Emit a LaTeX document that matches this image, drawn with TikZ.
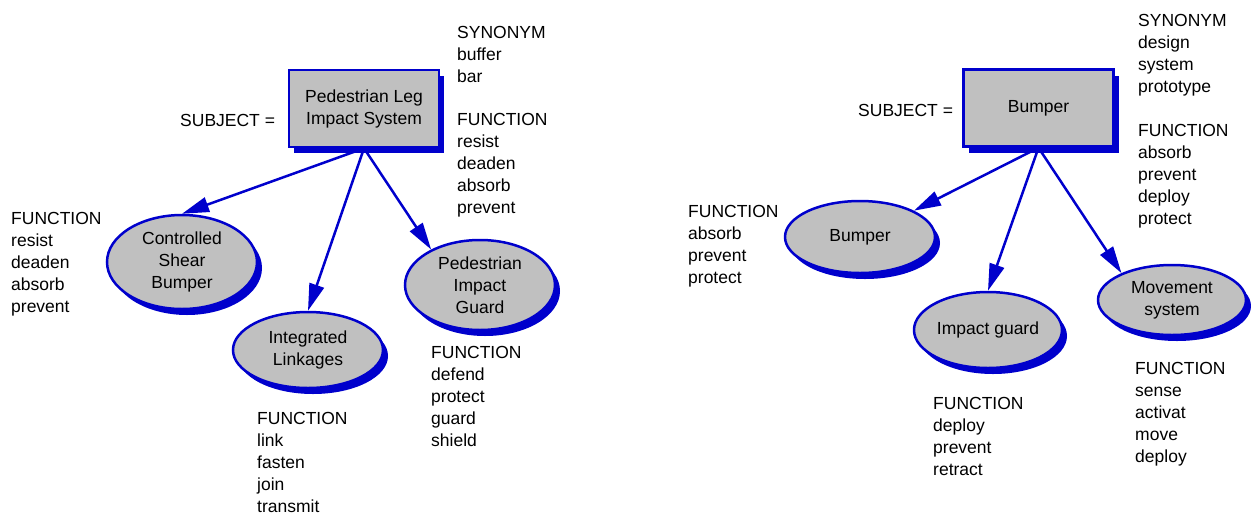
\documentclass[tikz,border=0pt]{standalone}
\usepackage{fontspec}
\setmainfont{Liberation Sans}
\usetikzlibrary{shapes.geometric,shadows,arrows.meta}
\definecolor{lblue}{RGB}{0,0,204}
\definecolor{lgray}{RGB}{192,192,192}
\begin{document}
\begin{tikzpicture}[x=1pt,y=-1pt,
  txt/.style={font=\fontsize{17.5}{22}\selectfont, inner sep=0pt},
  lst/.style={txt, anchor=north west, align=left},
  shad/.style={drop shadow={shadow xshift=5pt, shadow yshift=-6pt, shadow scale=1, fill=lblue, opacity=1}},
  subjbox/.style={txt, shad, rectangle, draw=lblue, line width=2.5pt, fill=lgray, minimum width=150pt, minimum height=77pt, align=center},
  ell/.style={txt, shad, ellipse, draw=lblue, line width=2.5pt, fill=lgray, align=center},
  arr/.style={draw=lblue, line width=2.5pt, -{Triangle[length=27pt,width=15pt]}}
]
\useasboundingbox (0,0) rectangle (1251,515);

% ---------- left diagram ----------
\node[subjbox] (lbox) at (364,108.5) {Pedestrian Leg\\Impact System};
\node[txt, anchor=west] (lsubj) at (180,120) {SUBJECT =};
\node[lst] (lsyn) at (457,26.5) {SYNONYM\\buffer\\bar};
\node[lst] (lfun) at (457,113.5) {FUNCTION\\resist\\deaden\\absorb\\prevent};

\node[ell, minimum width=150pt, minimum height=94pt] (csb) at (182,262) {Controlled\\Shear\\Bumper};
\node[ell, minimum width=150pt, minimum height=76pt] (il) at (308,350) {Integrated\\Linkages};
\node[ell, minimum width=150pt, minimum height=90pt] (pig) at (480,285) {Pedestrian\\Impact\\Guard};

\node[lst] (csbf) at (11,212.5) {FUNCTION\\resist\\deaden\\absorb\\prevent};
\node[lst] (ilf) at (257,412.5) {FUNCTION\\link\\fasten\\join\\transmit};
\node[lst] (pigf) at (431,346.5) {FUNCTION\\defend\\protect\\guard\\shield};

\draw[arr] (lbox.south) -- (csb.north);
\draw[arr] (lbox.south) -- (il.north);
\draw[arr] (lbox.south) -- (pig.144);

% ---------- right diagram ----------
\node[subjbox] (rbox) at (1038.5,108) {Bumper};
\node[txt, anchor=west] (rsubj) at (858,110) {SUBJECT =};
\node[lst] (rsyn) at (1138,14.5) {SYNONYM\\design\\system\\prototype};
\node[lst] (rfun) at (1138,124.5) {FUNCTION\\absorb\\prevent\\deploy\\protect};

\node[ell, minimum width=150pt, minimum height=72pt] (bu) at (860,237) {Bumper};
\node[ell, minimum width=148pt, minimum height=76pt] (ig) at (988,330) {Impact guard};
\node[ell, minimum width=148pt, minimum height=70pt] (ms) at (1172,300) {Movement\\system};

\node[lst] (buf) at (688,205.5) {FUNCTION\\absorb\\prevent\\protect};
\node[lst] (igf) at (933,397.5) {FUNCTION\\deploy\\prevent\\retract};
\node[lst] (msf) at (1135,362.5) {FUNCTION\\sense\\activat\\move\\deploy};

\draw[arr] (rbox.south) -- (bu.26);
\draw[arr] (rbox.south) -- (ig.north);
\draw[arr] (rbox.south) -- (ms.152);
\end{tikzpicture}
\end{document}
